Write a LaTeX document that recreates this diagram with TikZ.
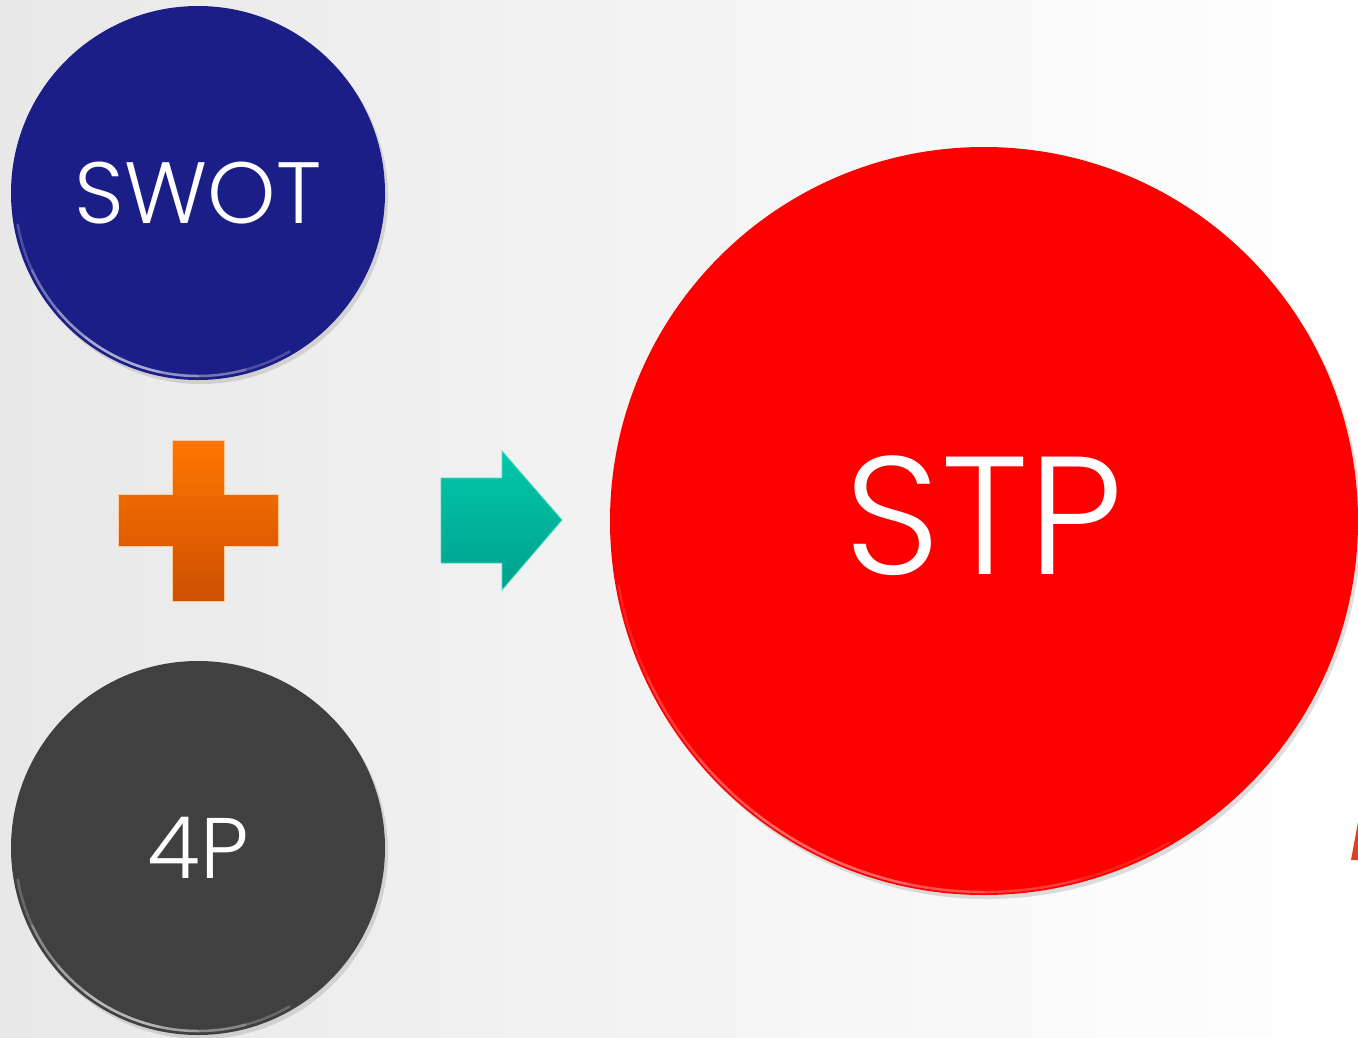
\documentclass[tikz,border=0pt]{standalone}
\usepackage{fontspec}
\setmainfont{Poppins}[UprightFont=* Light]
\usetikzlibrary{shadows}
\definecolor{swotblue}{RGB}{27,30,135}
\definecolor{fourpgray}{RGB}{64,64,64}
\definecolor{stpred}{RGB}{255,0,0}
\definecolor{plustop}{RGB}{255,118,0}
\definecolor{plusbot}{RGB}{205,80,0}
\definecolor{arrowtop}{RGB}{0,200,170}
\definecolor{arrowbot}{RGB}{0,160,140}
\tikzset{
x=1pt, y=-1pt, % one unit is one pixel of the slide, y runs downwards
ball/.style={circle, inner sep=0pt, text=white, drop shadow={opacity=0.25, shadow xshift=3pt, shadow yshift=-4pt}}, % the round buttons
rim/.style={white, line width=2.5pt, opacity=0.22, line cap=round}, % glossy edge
}

\begin{document}
\begin{tikzpicture}
  \useasboundingbox (0,0) rectangle (1358,1037);
  \shade[left color=black!9, right color=white] (0,0) rectangle (1358,1037);

  \node[ball, fill=swotblue, minimum size=374pt] (swot) at (198,193) {\fontsize{87}{87}\selectfont SWOT};
  \node[ball, fill=fourpgray, minimum size=374pt] (fourp) at (198,848) {\fontsize{86}{86}\selectfont 4P};
  \node[ball, fill=stpred, minimum size=748pt] (stp) at (984,521) {};
  \node[text=white] (stplabel) at (984,516) {\fontsize{168}{168}\selectfont STP};

  % glossy edges, overlapping arcs so that the middle is brightest
  \foreach \a/\b in {190/300, 205/285, 220/270, 232/258} {
    \draw[rim] ([shift={(\a:183pt)}]swot.center) arc[start angle=\a, end angle=\b, radius=183pt];
    \draw[rim] ([shift={(\a:183pt)}]fourp.center) arc[start angle=\a, end angle=\b, radius=183pt];
    \draw[rim, opacity=0.12] ([shift={(\a:371pt)}]stp.center) arc[start angle=\a, end angle=\b, radius=371pt];
  }

  % plus sign
  \shade[top color=plustop, bottom color=plusbot, draw=orange!40, line width=0.8pt]
    (172,440) -- (224,440) -- (224,494) -- (278,494) -- (278,546) -- (224,546)
    -- (224,601) -- (172,601) -- (172,546) -- (118,546) -- (118,494) -- (172,494) -- cycle;

  % arrow
  \shade[top color=arrowtop, bottom color=arrowbot, draw=arrowtop!70!white, line width=0.8pt]
    (441,478) -- (502,478) -- (502,451) -- (562,520) -- (502,590) -- (502,563) -- (441,563) -- cycle;

  \fill[red!50!brown] (1351,860) -- (1358,822) -- (1358,860) -- cycle;
\end{tikzpicture}
\end{document}
